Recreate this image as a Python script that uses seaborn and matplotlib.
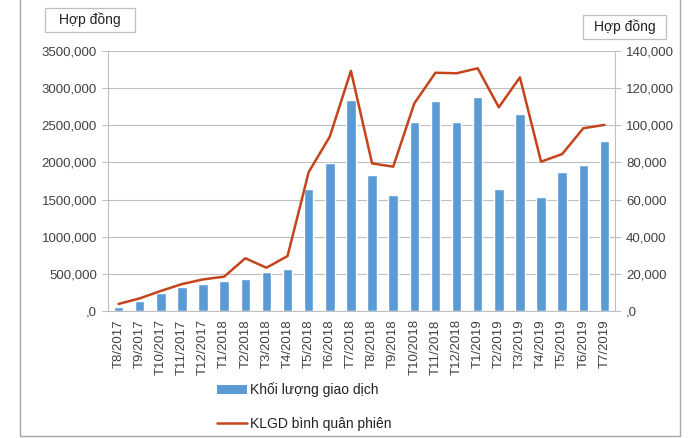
import matplotlib
matplotlib.use("Agg")
import matplotlib.pyplot as plt
from matplotlib.lines import Line2D
from matplotlib.patches import Patch, Rectangle
import numpy as np
import pandas as pd
import seaborn as sns

thang = [
    "T8/2017", "T9/2017", "T10/2017", "T11/2017", "T12/2017", "T1/2018",
    "T2/2018", "T3/2018", "T4/2018", "T5/2018", "T6/2018", "T7/2018",
    "T8/2018", "T9/2018", "T10/2018", "T11/2018", "T12/2018", "T1/2019",
    "T2/2019", "T3/2019", "T4/2019", "T5/2019", "T6/2019", "T7/2019",
]
khoi_luong = [
    58000, 139000, 238000, 327000, 359000, 408000,
    427000, 525000, 565000, 1638000, 1990000, 2840000,
    1831000, 1562000, 2548000, 2827000, 2548000, 2877000,
    1638000, 2648000, 1530000, 1867000, 1965000, 2293000,
]
binh_quan = [
    3800, 6800, 10800, 14500, 17000, 18500,
    28400, 23300, 29600, 74800, 93900, 129300,
    79500, 77700, 111800, 128300, 128000, 130700,
    109700, 125800, 80400, 84500, 98400, 100200,
]
trai_ticks = [0, 500000, 1000000, 1500000, 2000000, 2500000, 3000000, 3500000]
trai_labels = [",0", "500,000", "1000,000", "1500,000", "2000,000", "2500,000", "3000,000", "3500,000"]
phai_ticks = [0, 20000, 40000, 60000, 80000, 100000, 120000, 140000]
phai_labels = [",0", "20,000", "40,000", "60,000", "80,000", "100,000", "120,000", "140,000"]

sns.set_style("white")
plt.rcParams["font.family"] = ["Liberation Sans", "DejaVu Sans"]

mau_cot = "#5B9BD5"
mau_duong = "#C4441C"
mau_luoi = "#BFBFBF"
mau_chu = "#404040"

df = pd.DataFrame({"thang": thang, "kl": khoi_luong, "bq": binh_quan, "idx": np.arange(len(thang))})

W, H = 700, 438
fig = plt.figure(figsize=(7, 4.38), dpi=100)
ax = fig.add_axes([108 / W, 1 - 311 / H, (615 - 108) / W, 260 / H])

sns.barplot(data=df, x="thang", y="kl", color=mau_cot, width=0.45, saturation=1, ax=ax)
ax.set_ylim(0, 3500000)
ax.set_yticks(trai_ticks)
ax.set_yticklabels(trai_labels, fontsize=9.5, color=mau_chu)
ax.yaxis.grid(True, color=mau_luoi, linewidth=0.8)
ax.set_axisbelow(True)
ax.set_xlim(-0.5, len(thang) - 0.5)
ax.set_xlabel("")
ax.set_ylabel("")
ax.set_xticks(np.arange(len(thang)))
ax.set_xticklabels(thang, rotation=90, fontsize=9.5, color=mau_chu)
ax.set_xticks(np.arange(len(thang) + 1) - 0.5, minor=True)
ax.tick_params(axis="x", which="major", length=0, pad=6)
ax.tick_params(axis="x", which="minor", length=4, color=mau_luoi, direction="out")
ax.tick_params(axis="y", length=4, color=mau_luoi, direction="out", pad=4)

ax2 = ax.twinx()
sns.lineplot(data=df, x="idx", y="bq", color=mau_duong, linewidth=1.8, ax=ax2)
ax2.set_ylim(0, 140000)
ax2.set_yticks(phai_ticks)
ax2.set_yticklabels(phai_labels, fontsize=9.5, color=mau_chu)
ax2.set_ylabel("")
ax2.set_xlim(-0.5, len(thang) - 0.5)
ax2.tick_params(axis="y", length=4, color=mau_luoi, direction="out", pad=4)

for a in (ax, ax2):
    for s in a.spines.values():
        s.set_visible(False)
ax.spines["bottom"].set_visible(True)
ax.spines["bottom"].set_color(mau_luoi)
ax.spines["left"].set_visible(True)
ax.spines["left"].set_color(mau_luoi)
ax2.spines["right"].set_visible(True)
ax2.spines["right"].set_color(mau_luoi)


def hop_chu(x0, y0, x1, y1, text):
    fig.patches.append(Rectangle((x0 / W, 1 - y1 / H), (x1 - x0) / W, (y1 - y0) / H,
                                 transform=fig.transFigure, facecolor="white",
                                 edgecolor="#BFBFBF", linewidth=0.9))
    fig.text((x0 + x1) / 2 / W, 1 - (y0 + y1) / 2 / H, text, ha="center", va="center",
             fontsize=10, color="#222222")


hop_chu(45, 8, 135, 32, "Hợp đồng")
hop_chu(583, 15, 666, 39, "Hợp đồng")

handles = [
    Patch(facecolor=mau_cot, edgecolor="none", label="Khối lượng giao dịch"),
    Line2D([0], [0], color=mau_duong, linewidth=1.8, label="KLGD bình quân phiên"),
]
fig.legend(handles=handles, loc="upper left", bbox_to_anchor=(204 / W, 1 - 370 / H),
           frameon=False, fontsize=10, handlelength=2.2, handletextpad=0.2, labelspacing=1.4,
           labelcolor="#222222")

fig.patches.append(Rectangle((20 / W, 2 / H), 660 / W, 440 / H, transform=fig.transFigure,
                             fill=False, edgecolor="#A6A6A6", linewidth=1.0))

fig.savefig("out.png", dpi=100)
